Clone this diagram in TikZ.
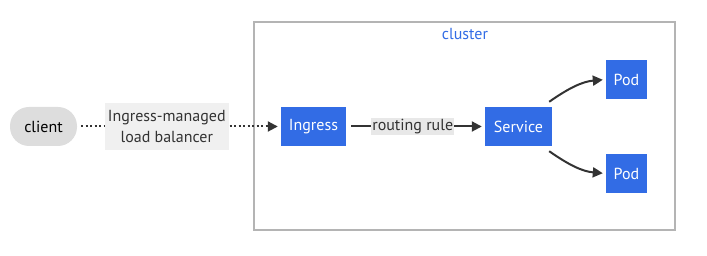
\documentclass[tikz,border=0pt]{standalone}
\usepackage{fontspec}
\setmainfont{PT Sans}
\usetikzlibrary{arrows.meta}
\definecolor{kblue}{RGB}{50, 108, 229}
\definecolor{darkline}{RGB}{51, 51, 51}
\definecolor{clustergray}{RGB}{180, 180, 180}
\definecolor{clientgray}{RGB}{221, 221, 221}
\definecolor{labelgray}{RGB}{240, 240, 240}
\definecolor{rulegray}{RGB}{232, 232, 232}

\begin{document}
\begin{tikzpicture}[x=1pt, y=-1pt,
    comp/.style={fill=kblue, text=white, inner sep=0pt,
                 minimum height=39pt, font=\fontsize{16}{18}\selectfont},
    arr/.style={-{Triangle[length=10pt, width=10pt]}, line width=2pt, color=darkline},
    lbl/.style={fill=labelgray, text=darkline, align=center, inner sep=3pt,
                font=\fontsize{16}{21}\selectfont},
]
\useasboundingbox (0,0) rectangle (707,256);
\node[draw=clustergray, line width=1.6pt, minimum width=421pt, minimum height=208pt,
      inner sep=0pt] (cluster) at (464.5,126) {};
\node[text=kblue, font=\fontsize{16}{18}\selectfont] (clusterlabel) at (465,34) {cluster};

\node[fill=clientgray, rounded corners=19pt, minimum width=67pt, minimum height=39pt,
      inner sep=0pt, font=\fontsize{16}{18}\selectfont] (client) at (43.5,126.5) {client};
\node[comp, minimum width=65pt] (ingress) at (313.5,126.5) {Ingress};
\node[comp, minimum width=67pt] (service) at (518.5,126.5) {Service};
\node[comp, minimum width=41pt] (pod1)    at (626.5,79.5)  {Pod};
\node[comp, minimum width=41pt] (pod2)    at (626.5,173.5) {Pod};

\draw[arr, dash pattern=on 2pt off 2.5pt, shorten <=4pt, shorten >=3pt] (client) --
    node[pos=0.44, lbl, minimum width=124pt, minimum height=47pt] (lb) {Ingress-managed\\load balancer} (ingress);
\draw[arr, shorten <=5pt, shorten >=3pt] (ingress) --
    node[pos=0.48, lbl, fill=rulegray, inner sep=1pt] (rule) {routing rule} (service);
\draw[arr, shorten >=3pt] ([xshift=-3pt, yshift=5pt]service.north east) to[out=35, in=185] (pod1.west);
\draw[arr, shorten >=3pt] ([xshift=-3pt, yshift=-5pt]service.south east) to[out=-35, in=175] (pod2.west);
\end{tikzpicture}
\end{document}
